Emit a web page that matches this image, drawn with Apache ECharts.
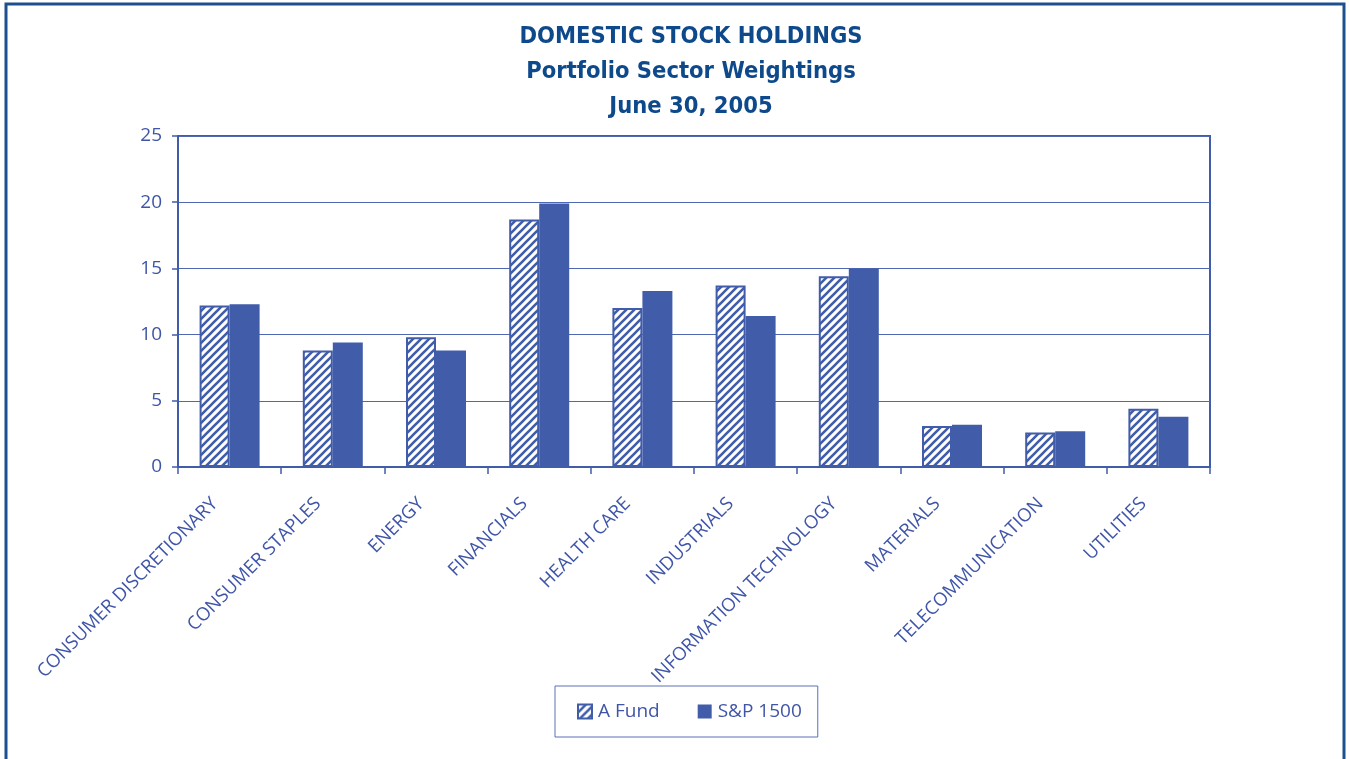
<!DOCTYPE html>
<html>
<head>
<meta charset="utf-8">
<script src="https://cdn.jsdelivr.net/npm/echarts@6/dist/echarts.min.js"></script>
<style>
html, body { margin: 0; padding: 0; background: #fff; }
#chart { width: 1350px; height: 759px; }
</style>
</head>
<body>
<div id="chart"></div>
<script>
// sector names along the x axis
const categories = [
  'CONSUMER DISCRETIONARY', 'CONSUMER STAPLES', 'ENERGY', 'FINANCIALS', 'HEALTH CARE',
  'INDUSTRIALS', 'INFORMATION TECHNOLOGY', 'MATERIALS', 'TELECOMMUNICATION', 'UTILITIES'
];
const fundValues = [12.2, 8.8, 9.8, 18.7, 12.0, 13.7, 14.4, 3.1, 2.6, 4.4];
const spValues   = [12.3, 9.4, 8.8, 19.9, 13.3, 11.4, 15.0, 3.2, 2.7, 3.8];
const yTicks = [0, 5, 10, 15, 20, 25];

const blue = '#415daa';
const textBlue = '#3f55a8';
const navy = '#0e4a8b';

// diagonal stripes for the fund bars
function hatch() {
  const c = document.createElement('canvas');
  c.width = 8; c.height = 8;
  const ctx = c.getContext('2d');
  ctx.fillStyle = '#fff';
  ctx.fillRect(0, 0, 8, 8);
  ctx.strokeStyle = blue;
  ctx.lineWidth = 2.6;
  ctx.beginPath();
  ctx.moveTo(-1, 9); ctx.lineTo(9, -1);
  ctx.moveTo(-3, 3); ctx.lineTo(3, -3);
  ctx.moveTo(5, 11); ctx.lineTo(11, 5);
  ctx.stroke();
  return c;
}

const chart = echarts.init(document.getElementById('chart'));
chart.setOption({
  animation: false,
  textStyle: { fontFamily: 'Open Sans' },
  title: {
    text: 'DOMESTIC STOCK HOLDINGS\nPortfolio Sector Weightings\nJune 30, 2005',
    left: 686,
    textAlign: 'center',
    top: 14,
    textStyle: {
      fontFamily: 'DejaVu Sans Condensed',
      fontSize: 23.5,
      fontWeight: 'bold',
      color: navy,
      lineHeight: 35
    }
  },
  graphic: [{
    type: 'rect',
    shape: { x: 6, y: 4, width: 1338, height: 800 },
    style: { fill: 'none', stroke: '#1d508f', lineWidth: 3 },
    silent: true
  }],
  legend: {
    left: 555,
    top: 686,
    padding: [16, 16, 16, 22],
    itemGap: 38,
    itemWidth: 14,
    itemHeight: 14,
    borderColor: '#5a70b8',
    borderWidth: 1,
    icon: 'rect',
    textStyle: { color: textBlue, fontSize: 19, padding: [0, 0, 0, 1] },
    data: ['A Fund', 'S&P 1500']
  },
  grid: {
    left: 178,
    right: 140,
    top: 136,
    bottom: 292,
    show: true,
    borderColor: blue,
    borderWidth: 2
  },
  xAxis: {
    type: 'category',
    data: categories,
    axisLine: { lineStyle: { color: blue, width: 2 } },
    axisTick: { show: true, length: 7, lineStyle: { color: blue, width: 1.5 } },
    axisLabel: {
      rotate: 45,
      color: textBlue,
      fontSize: 18.5,
      margin: 19,
      padding: [0, 21, 0, 0],
      interval: 0
    }
  },
  yAxis: {
    type: 'value',
    min: 0,
    max: 25,
    interval: 5,
    axisLine: { show: true, lineStyle: { color: blue, width: 2 } },
    axisTick: { show: true, length: 6, lineStyle: { color: blue, width: 1.5 } },
    axisLabel: {
      color: textBlue,
      fontSize: 19,
      margin: 16,
      formatter: v => yTicks.includes(v) ? String(v) : ''
    },
    splitLine: { lineStyle: { color: '#5068b4', width: 1.2 } }
  },
  series: [
    {
      name: 'A Fund',
      type: 'bar',
      data: fundValues,
      barWidth: 30,
      barGap: '0%',
      itemStyle: {
        color: { image: hatch(), repeat: 'repeat' },
        borderColor: blue,
        borderWidth: 2
      }
    },
    {
      name: 'S&P 1500',
      type: 'bar',
      data: spValues,
      barWidth: 30,
      itemStyle: { color: blue }
    }
  ]
});
window.addEventListener('resize', () => chart.resize());
</script>
</body>
</html>
